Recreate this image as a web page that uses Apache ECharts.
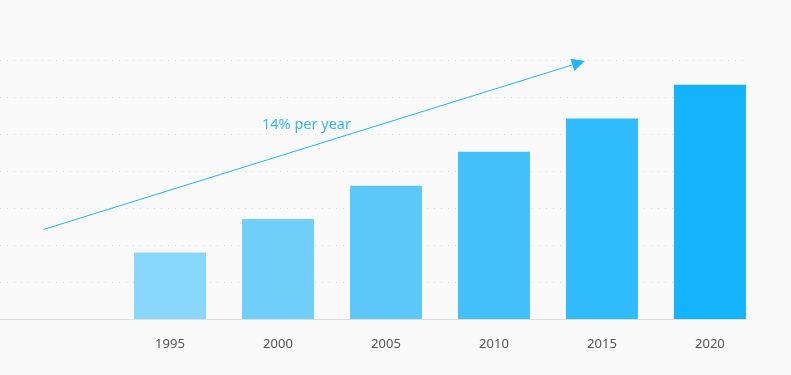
<!DOCTYPE html>
<html>
<head>
<meta charset="utf-8">
<script src="https://cdn.jsdelivr.net/npm/echarts@6/dist/echarts.min.js"></script>
<style>
html,body{margin:0;padding:0;background:#f9f9f9;}
#c{width:791px;height:375px;}
</style>
</head>
<body>
<div id="c"></div>
<script>
var years = [1995, 2000, 2005, 2010, 2015, 2020];
var values = [18, 27, 36, 45.2, 54.2, 63.3];
var barColors = ['#89d7fb', '#70cff9', '#5cc8f8', '#44c0f9', '#2fbbfc', '#15b3fb'];
var trendStart = [1989.15, 24.2];
var trendEnd = [2013.92, 69.2];
var trendLabel = '14% per year';

var chart = echarts.init(document.getElementById('c'), null, {renderer: 'canvas'});
chart.setOption({
  backgroundColor: '#f9f9f9',
  animation: false,
  grid: {left: 0, right: 45, top: 60, bottom: 56},
  xAxis: {
    type: 'value',
    min: 1987.13,
    max: 2021.67,
    axisLine: {show: true, lineStyle: {color: '#dddddd', width: 1}},
    axisTick: {show: false},
    splitLine: {show: false},
    axisLabel: {
      customValues: years,
      color: '#555555',
      fontSize: 13,
      fontFamily: 'Noto Sans',
      margin: 19,
      formatter: function (v) { return String(Math.round(v)); }
    }
  },
  yAxis: {
    type: 'value',
    min: 0,
    max: 70,
    interval: 10,
    axisLine: {show: false},
    axisTick: {show: false},
    axisLabel: {show: false},
    splitLine: {show: true, lineStyle: {color: '#dcdcdc', type: [1, 6], width: 1}}
  },
  graphic: [{
    type: 'text',
    left: 262,
    top: 117,
    style: {text: trendLabel, fill: '#36b7f0', font: '14.5px "Noto Sans"'}
  }],
  series: [{
    type: 'bar',
    barWidth: 72,
    data: years.map(function (y, i) {
      return {value: [y, values[i]], itemStyle: {color: barColors[i]}};
    }),
    markLine: {
      silent: true,
      animation: false,
      symbolSize: 13,
      label: {show: false},
      lineStyle: {color: '#1fb5f7', width: 1, type: 'solid'},
      data: [[
        {coord: trendStart, symbol: 'none'},
        {coord: trendEnd, symbol: 'triangle'}
      ]]
    }
  }]
});
</script>
</body>
</html>
